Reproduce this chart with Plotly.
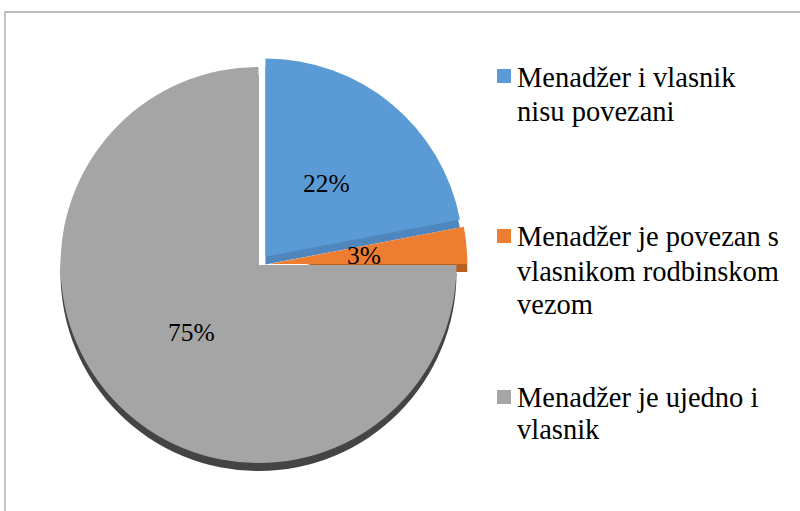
import math
import plotly.graph_objects as go

W, H = 800, 511

labels = ["Menadžer i vlasnik nisu povezani",
          "Menadžer je povezan s vlasnikom rodbinskom vezom",
          "Menadžer je ujedno i vlasnik"]
values = [22, 3, 75]
colors = ["#5B9BD5", "#ED7D31", "#A5A5A5"]
depth_colors = ["#4F86BD", "#B85F22", "#444444"]
pulls = [0.055, 0.055, 0.0]
legend_lines = [["Menadžer i vlasnik", "nisu povezani"],
                ["Menadžer je povezan s", "vlasnikom rodbinskom", "vezom"],
                ["Menadžer je ujedno i", "vlasnik"]]

FONT = "Liberation Serif"

# pie geometry (pixels)
cx, cy, r = 258.5, 265, 198
maxpull = max(pulls)
half = r * (1 + maxpull)
depth = 8

def px_dom(x0, x1, y0, y1):
    return dict(x=[x0 / W, x1 / W], y=[1 - y1 / H, 1 - y0 / H])

fig = go.Figure()
fig.add_trace(go.Pie(
    labels=labels, values=values, sort=False, direction="clockwise",
    rotation=0, pull=pulls,
    marker=dict(colors=depth_colors, line=dict(width=0)),
    textinfo="none", hoverinfo="skip", showlegend=False,
    domain=px_dom(cx - half, cx + half, cy - half + depth, cy + half + depth),
))
fig.add_trace(go.Pie(
    labels=labels, values=values, sort=False, direction="clockwise",
    rotation=0, pull=pulls,
    marker=dict(colors=colors, line=dict(width=0)),
    textinfo="none", showlegend=False,
    domain=px_dom(cx - half, cx + half, cy - half, cy + half),
))

annotations = []
# percentage labels, placed like Excel: at ~half radius along each slice's mid-angle
total = sum(values)
cum = 0
for v, p in zip(values, pulls):
    mid = 2 * math.pi * (cum + v / 2) / total
    cum += v
    dx, dy = math.sin(mid), -math.cos(mid)
    px = cx + dx * (p * r + 0.48 * r)
    py = cy + dy * (p * r + 0.48 * r)
    annotations.append(dict(text=f"{round(100 * v / total)}%", xref="paper", yref="paper",
                            x=px / W, y=1 - py / H, xanchor="center", yanchor="middle",
                            showarrow=False,
                            font=dict(family=FONT, size=25.5, color="black")))

# manual legend
sq_tops = [69, 229, 390]
baselines = [[86, 120], [245, 280, 313], [406, 438]]
fs = 28.5
shapes = [dict(type="rect", xref="paper", yref="paper",
               x0=5 / W, x1=1.02, y0=-0.02, y1=1 - 12 / H,
               line=dict(color="#A6A6A6", width=1.3), fillcolor="rgba(0,0,0,0)")]
for i, lines in enumerate(legend_lines):
    t = sq_tops[i]
    shapes.append(dict(type="rect", xref="paper", yref="paper",
                       x0=497 / W, x1=511 / W, y0=1 - (t + 14) / H, y1=1 - t / H,
                       line=dict(width=0), fillcolor=colors[i]))
    for j, line in enumerate(lines):
        b = baselines[i][j]
        annotations.append(dict(text=line, xref="paper", yref="paper",
                                x=515 / W, y=1 - (b - 0.3 * fs) / H,
                                xanchor="left", yanchor="middle", showarrow=False,
                                font=dict(family=FONT, size=fs, color="black")))

fig.update_layout(width=W, height=H, margin=dict(l=0, r=0, t=0, b=0),
                  paper_bgcolor="white", plot_bgcolor="white",
                  shapes=shapes, annotations=annotations)
fig.write_html("out.html", config={"displayModeBar": False},
               post_script="document.body.style.margin='0px';")
